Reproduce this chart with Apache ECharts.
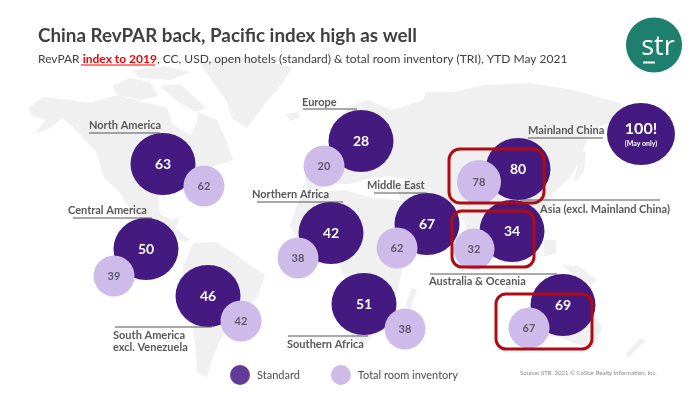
<!DOCTYPE html>
<html><head><meta charset="utf-8">
<style>html,body{margin:0;padding:0;background:#fff}#c{width:700px;height:394px}</style>
<script src="https://cdn.jsdelivr.net/npm/echarts@6/dist/echarts.min.js"></script>
</head><body><div id="c"></div>
<script>
const regions = ['North America','Central America','South America','Europe','Northern Africa','Middle East','Southern Africa','Asia (excl. Mainland China)','Mainland China','Australia & Oceania'];
const standardIndex = [63,50,46,28,42,67,51,34,80,69];
const inventoryIndex = [62,39,42,20,38,62,38,32,78,67];
const chinaMayOnly = ['100!','(May only)'];

// where each bubble sits on the backdrop
const standardAnchorX = [163,146,208,361,331,427,364,512,518,563];
const standardAnchorY = [164,249,296,141,233,224,304,231,169,305];
const inventoryAnchorX = [204,114,241,324,298,397,405,474,479,529];
const inventoryAnchorY = [186,276,321,166,258,248,329,249,182,328];
const chinaAnchor = [641,134];

// very rough land backdrop
const land = [
 [[28,108],[43,97],[70,100],[90,103],[117,95],[147,103],[167,107],[172,124],[190,135],[197,123],[198,112],[217,120],[226,140],[233,160],[214,166],[207,176],[196,186],[193,202],[188,202],[184,190],[168,192],[158,198],[160,214],[172,220],[180,216],[176,228],[190,240],[184,242],[165,232],[146,224],[128,206],[118,190],[104,178],[96,152],[72,126],[62,118],[50,128],[34,134],[46,120],[32,116]],
 [[112,86],[130,78],[150,82],[158,96],[140,100],[118,95]],
 [[160,86],[180,84],[206,108],[196,112],[178,102]],
 [[132,70],[165,66],[190,72],[170,80],[140,78]],
 [[200,63],[240,56],[293,67],[282,84],[268,100],[247,128],[232,118],[226,100],[214,84]],
 [[286,114],[298,112],[300,118],[290,121]],
 [[193,243],[217,242],[240,258],[265,275],[258,296],[247,307],[232,322],[220,340],[212,360],[207,377],[197,372],[195,343],[190,310],[183,284],[183,267]],
 [[300,198],[320,192],[345,190],[372,198],[400,200],[414,224],[432,228],[416,252],[402,270],[398,290],[385,320],[365,345],[352,338],[345,280],[335,255],[300,245],[290,225]],
 [[412,288],[417,290],[410,310],[405,306]],
 [[305,176],[325,172],[326,158],[340,146],[336,122],[350,106],[368,100],[392,110],[423,100],[426,92],[453,92],[483,85],[530,83],[573,90],[620,103],[630,120],[600,126],[586,142],[580,160],[570,178],[553,193],[548,210],[530,220],[526,240],[515,226],[496,218],[480,245],[468,232],[462,214],[444,220],[432,236],[414,222],[402,200],[396,190],[410,180],[390,176],[370,178],[350,184],[330,184],[318,190],[306,188]],
 [[580,150],[586,152],[584,172],[574,182],[576,172]],
 [[500,240],[520,262],[514,264],[498,246]],
 [[544,240],[556,240],[556,254],[544,256]],
 [[562,265],[578,266],[597,280],[592,284],[575,276]],
 [[530,310],[560,302],[590,306],[602,328],[594,348],[576,344],[556,336],[530,340]],
 [[640,338],[646,340],[634,352],[628,358],[626,354]]
];

const labels = [
 ['North America',89,125],['Central America',68,210],['South America',113,335],['excl. Venezuela',113,347],
 ['Europe',302,102],['Northern Africa',252,194],['Middle East',367,185],['Southern Africa',287,344],
 ['Mainland China',528,130],['Asia (excl. Mainland China)',540,209],['Australia & Oceania',429,281]
];
const leaders = [
 [89,160,133],[73,152,218],[115,212,327],[303,357,109],[257,343,202],[374,427,193],[288,368,336],[528,603,138],[520,660,200],[430,557,274]
];
const boxes = [[449,149,95,54,11],[452,211,82,56,10],[496,294,96,55,10]];

const purple = '#441a80', lilac = '#cfbbe9', grey = '#595959';
const chart = echarts.init(document.getElementById('c'));

const graphic = [];
leaders.forEach(l => graphic.push({type:'line',z:20,shape:{x1:l[0],y1:l[2],x2:l[1],y2:l[2]},style:{stroke:'#555',lineWidth:1}}));
labels.forEach(l => graphic.push({type:'text',z:20,x:l[1],y:l[2],style:{text:l[0],font:'bold 11px Lato',fill:grey,textVerticalAlign:'middle'}}));
boxes.forEach(b => graphic.push({type:'rect',z:30,shape:{x:b[0],y:b[1],width:b[2],height:b[3],r:b[4]},style:{fill:'none',stroke:'#b00b12',lineWidth:3}}));
graphic.push({type:'line',z:20,shape:{x1:81,y1:65,x2:155,y2:65},style:{stroke:'#f00000',lineWidth:1}});
graphic.push({type:'text',z:20,x:520,y:373,style:{text:'Source: STR. 2021 © CoStar Realty Information, Inc.',font:'6px Lato',fill:'#888',textVerticalAlign:'middle'}});
graphic.push({type:'ellipse',z:20,shape:{cx:654,cy:45,rx:28,ry:27.5},style:{fill:'#1f7f6e'}});
graphic.push({type:'text',z:21,x:658,y:47,style:{text:'str',font:'27px "Open Sans"',fill:'#fff',textAlign:'center',textVerticalAlign:'middle'}});
graphic.push({type:'line',z:21,shape:{x1:643,y1:62.5,x2:655,y2:62.5},style:{stroke:'#fff',lineWidth:2}});

chart.setOption({
 animation:false,
 title:{left:33,top:20,text:'China RevPAR back, Pacific index high as well',
  textStyle:{fontFamily:'Lato',fontWeight:'bold',fontSize:18.8,color:'#404040',lineHeight:22},
  subtext:'RevPAR {r|index to 2019}, CC, USD, open hotels (standard) & total room inventory (TRI), YTD May 2021',
  itemGap:6,
  subtextStyle:{fontFamily:'Lato',fontSize:12,color:'#404040',rich:{r:{fontFamily:'Lato',fontWeight:'bold',fontSize:12,color:'#f00000'}}}},
 grid:{left:0,right:0,top:0,bottom:0},
 xAxis:{type:'value',min:0,max:700,show:false},
 yAxis:{type:'value',min:0,max:394,inverse:true,show:false},
 legend:{left:225,top:360,itemWidth:20,itemHeight:20,itemGap:31,icon:'circle',
  textStyle:{fontFamily:'Lato',fontSize:11,color:'#4d4d4d',padding:[0,0,0,2]},
  data:[{name:'Standard',itemStyle:{color:'#633b98'}},{name:'Total room inventory',itemStyle:{color:lilac}}]},
 graphic:graphic,
 series:[
  {type:'custom',silent:true,z:1,coordinateSystem:'cartesian2d',data:land.map((_,i)=>[i]),encode:{x:0,y:0},
   clip:false,
   renderItem:(p,api)=>({type:'polygon',shape:{points:land[api.value(0)].map(q=>api.coord(q))},style:{fill:'#f0f0f0'}})},
  {type:'scatter',name:'Standard',z:3,symbol:'circle',symbolSize:[65,62],itemStyle:{color:purple,opacity:1},
   data:regions.map((r,i)=>({name:r,value:[standardAnchorX[i],standardAnchorY[i],standardIndex[i]]})).concat([
     {name:'Mainland China (May only)',value:[chinaAnchor[0],chinaAnchor[1],chinaMayOnly[0]],symbolSize:[68,62],
      label:{formatter:'{a|'+chinaMayOnly[0]+'}\n{b|'+chinaMayOnly[1]+'}',rich:{a:{fontFamily:'Lato',fontWeight:'bold',fontSize:16,color:'#fff',lineHeight:19},b:{fontFamily:'Lato',fontWeight:'bold',fontSize:7,color:'#fff',lineHeight:10}}}}
   ]),
   label:{show:true,position:'inside',formatter:p=>p.value[2],fontFamily:'Lato',fontWeight:'bold',fontSize:14,color:'#fff'}},
  {type:'scatter',name:'Total room inventory',z:4,symbol:'circle',symbolSize:41,itemStyle:{color:lilac,opacity:1},
   data:regions.map((r,i)=>({name:r,value:[inventoryAnchorX[i],inventoryAnchorY[i],inventoryIndex[i]],symbolSize:inventoryIndex[i]===78?44:41})),
   label:{show:true,position:'inside',formatter:p=>p.value[2],fontFamily:'Lato',fontWeight:'bold',fontSize:11,color:'#5f5670'}}
 ]
});
</script></body></html>
